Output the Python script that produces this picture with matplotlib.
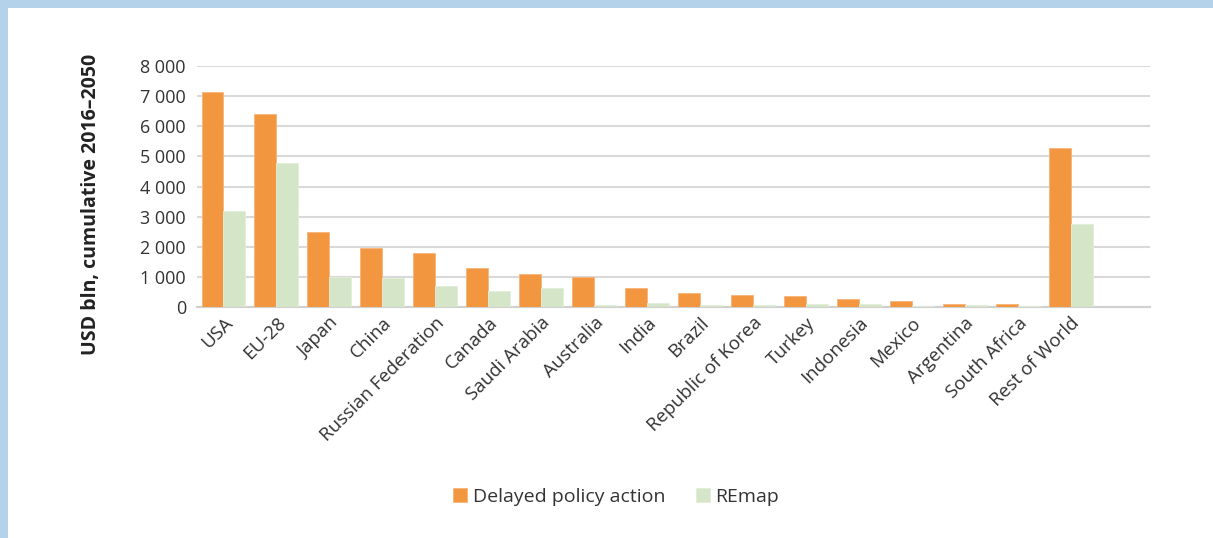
import matplotlib.pyplot as plt
import numpy as np
from matplotlib.patches import Rectangle
from matplotlib.ticker import FuncFormatter

categories = ["USA", "EU-28", "Japan", "China", "Russian Federation", "Canada",
              "Saudi Arabia", "Australia", "India", "Brazil", "Republic of Korea",
              "Turkey", "Indonesia", "Mexico", "Argentina", "South Africa",
              "Rest of World"]
delayed = [7130, 6410, 2490, 1960, 1800, 1300, 1110, 980, 617, 451, 396,
           363, 264, 198, 110, 110, 5270]
remap = [3190, 4780, 1000, 960, 700, 540, 640, 60, 121, 55, 66,
         99, 88, 44, 66, 33, 2750]
yticks = [0, 1000, 2000, 3000, 4000, 5000, 6000, 7000, 8000]

plt.rcParams['font.family'] = ['Open Sans', 'DejaVu Sans']
text_col = '#333333'

fig = plt.figure(figsize=(12.13, 5.38), dpi=100)
fig.patch.set_facecolor('white')

# light blue frame along top and left edges
frame = '#B4D2EA'
fig.add_artist(Rectangle((0, 1 - 8 / 538), 1, 8 / 538, transform=fig.transFigure,
                         facecolor=frame, edgecolor='none', zorder=0))
fig.add_artist(Rectangle((0, 0), 8 / 1213, 1, transform=fig.transFigure,
                         facecolor=frame, edgecolor='none', zorder=0))

ax = fig.add_axes([197 / 1213, 231 / 538, (1150 - 197) / 1213, (307 - 66) / 538])

x = np.arange(len(categories))
w = 0.415
ax.bar(x - w / 2, delayed, width=w, color='#F39640', edgecolor='#F7B479',
       linewidth=0.6, label='Delayed policy action', zorder=3)
ax.bar(x + w / 2, remap, width=w, color='#D4E6C7', edgecolor='#E2EED9',
       linewidth=0.6, label='REmap', zorder=3)

ax.set_xlim(-0.5, len(categories) + 0.5)
ax.set_ylim(0, 8000)
ax.set_yticks(yticks)
ax.yaxis.set_major_formatter(FuncFormatter(lambda v, p: f"{int(v):,}".replace(",", " ")))
ax.grid(axis='y', color='#D9D9D9', linewidth=1.5, zorder=0)
ax.set_axisbelow(True)

for s in ['top', 'right', 'left']:
    ax.spines[s].set_visible(False)
ax.spines['bottom'].set_color('#D0D0D0')
ax.spines['bottom'].set_linewidth(1.5)

ax.set_xticks(x)
ax.set_xticklabels(categories, rotation=45, ha='right', rotation_mode='anchor',
                   fontsize=13.5, color=text_col)
ax.tick_params(axis='x', length=0, pad=5)
ax.tick_params(axis='y', length=0, pad=8, labelsize=13, labelcolor=text_col)

ax.set_ylabel('USD bln, cumulative 2016–2050', fontsize=14, fontweight='bold',
              color='#222222')
ax.yaxis.set_label_coords(-0.101, 0.427)

leg = fig.legend(loc='center', bbox_to_anchor=(0.508, 1 - 497 / 538), ncol=2,
                 frameon=False, fontsize=14, handlelength=0.7, handleheight=0.7,
                 handletextpad=0.3, columnspacing=1.6, labelcolor=text_col)

fig.savefig('out.png', dpi=100, facecolor='white')
